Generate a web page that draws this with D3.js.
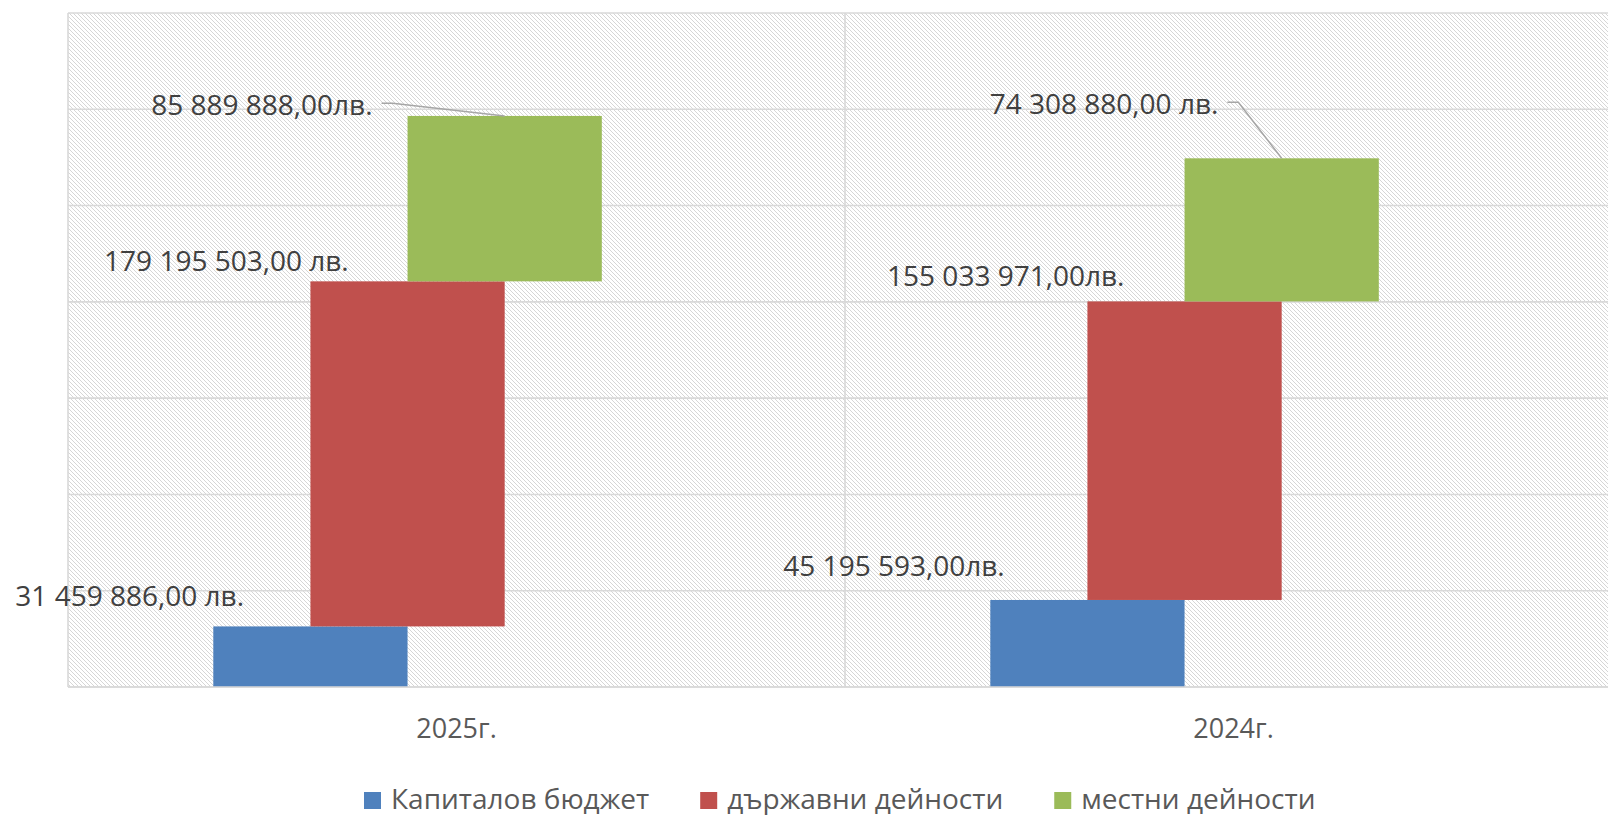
<!DOCTYPE html>
<html>
<head>
<meta charset="utf-8">
<script src="https://cdn.jsdelivr.net/npm/d3@7"></script>
<style>
  html, body { margin: 0; padding: 0; background: #ffffff; overflow: hidden; }
  svg { display: block; font-family: "Open Sans", "Noto Sans", sans-serif; }
</style>
</head>
<body>
<svg id="chart" width="1608" height="815"></svg>
<script>
// ---- data ----
const categories = ["2025г.", "2024г."];
const seriesNames = ["Капиталов бюджет", "държавни дейности", "местни дейности"];
const capitalBudget = [31459886, 45195593];
const stateActivities = [179195503, 155033971];
const localActivities = [85889888, 74308880];
const capitalLabels = ["31 459 886,00 лв.", "45 195 593,00лв."];
const stateLabels = ["179 195 503,00 лв.", "155 033 971,00лв."];
const localLabels = ["85 889 888,00лв.", "74 308 880,00 лв."];
const yTicks = [0, 50000000, 100000000, 150000000, 200000000, 250000000, 300000000, 350000000];

// ---- layout / style ----
const colors = ["#4F81BD", "#C0504D", "#9BBB59"];
const plot = { left: 68, right: 1622, top: 13, bottom: 687 };
// label offsets relative to (bar left edge, bar top), text anchored at its end
const labelOffsets = [
  [[30.7, -30.4], [14.4, -33.3]],
  [[38.3, -19.7], [37.0, -25.4]],
  [[-35.0, -10.8], [33.8, -54.0]]
];

const svg = d3.select("#chart");

const defs = svg.append("defs");
const pat = defs.append("pattern")
  .attr("id", "hatch").attr("patternUnits", "userSpaceOnUse")
  .attr("width", 4).attr("height", 4);
pat.append("rect").attr("width", 4).attr("height", 4).attr("fill", "#ffffff");
pat.append("path")
  .attr("d", "M0,0L4,4M-1,3L1,5M3,-1L5,1")
  .attr("stroke", "#d6d6d6").attr("stroke-width", 1);

const x = d3.scaleBand().domain(categories).range([plot.left, plot.right]).padding(0);
const y = d3.scaleLinear().domain([0, 350000000]).range([plot.bottom, plot.top]);
const bw = x.bandwidth();

// background
svg.append("rect")
  .attr("x", plot.left).attr("y", plot.top)
  .attr("width", plot.right - plot.left).attr("height", plot.bottom - plot.top)
  .attr("fill", "url(#hatch)");

// horizontal gridlines
svg.append("g").selectAll("line").data(yTicks).join("line")
  .attr("x1", plot.left).attr("x2", plot.right)
  .attr("y1", d => y(d)).attr("y2", d => y(d))
  .attr("stroke", "#d9d9d9").attr("stroke-width", 1.6);

// vertical category gridlines
const vlines = categories.map(c => x(c)).concat([plot.right]);
svg.append("g").selectAll("line").data(vlines).join("line")
  .attr("x1", d => d).attr("x2", d => d)
  .attr("y1", plot.top).attr("y2", plot.bottom)
  .attr("stroke", "#d9d9d9").attr("stroke-width", 1.6);

// bars (each series starts where the previous one ends)
const seriesValues = [capitalBudget, stateActivities, localActivities];
const seriesLabels = [capitalLabels, stateLabels, localLabels];
const bars = [];
categories.forEach((c, ci) => {
  let base = 0;
  seriesValues.forEach((vals, si) => {
    const v = vals[ci];
    const x0 = x(c) + bw * (0.187 + si * 0.125);
    bars.push({ si, ci, x0, w: bw * 0.25, y0: y(base + v), y1: y(base), label: seriesLabels[si][ci] });
    base += v;
  });
});

svg.append("g").selectAll("rect").data(bars).join("rect")
  .attr("x", d => d.x0).attr("y", d => d.y0)
  .attr("width", d => d.w).attr("height", d => d.y1 - d.y0)
  .attr("fill", d => colors[d.si]);

// axis line
svg.append("line")
  .attr("x1", plot.left).attr("x2", plot.right)
  .attr("y1", plot.bottom).attr("y2", plot.bottom)
  .attr("stroke", "#d9d9d9").attr("stroke-width", 1.6);

// leader lines for the top series
bars.filter(d => d.si === 2).forEach(d => {
  const off = labelOffsets[d.si][d.ci];
  const lx = d.x0 + off[0] + 9;
  const ly = d.y0 + off[1] - 2;
  svg.append("path")
    .attr("d", `M${lx},${ly}L${lx + 11},${ly}L${d.x0 + d.w / 2},${d.y0}`)
    .attr("fill", "none").attr("stroke", "#a6a6a6").attr("stroke-width", 1.5);
});

// value labels
svg.append("g").selectAll("text").data(bars).join("text")
  .attr("x", d => d.x0 + labelOffsets[d.si][d.ci][0])
  .attr("y", d => d.y0 + labelOffsets[d.si][d.ci][1] + 9.8)
  .attr("text-anchor", "end")
  .attr("font-size", 28)
  .attr("fill", "#404040")
  .text(d => d.label);

// category labels
svg.append("g").selectAll("text").data(categories).join("text")
  .attr("x", d => x(d) + bw / 2)
  .attr("y", 737.7)
  .attr("text-anchor", "middle")
  .attr("font-size", 27)
  .attr("fill", "#595959")
  .text(d => d);

// legend
const legend = svg.append("g");
let lxPos = 364;
seriesNames.forEach((name, i) => {
  legend.append("rect")
    .attr("x", lxPos).attr("y", 792).attr("width", 17).attr("height", 17)
    .attr("fill", colors[i]);
  const t = legend.append("text")
    .attr("x", lxPos + 27).attr("y", 808.5)
    .attr("font-size", 28)
    .attr("fill", "#595959")
    .text(name);
  const w = t.node().getComputedTextLength();
  lxPos += 27 + w + 51;
});
</script>
</body>
</html>
